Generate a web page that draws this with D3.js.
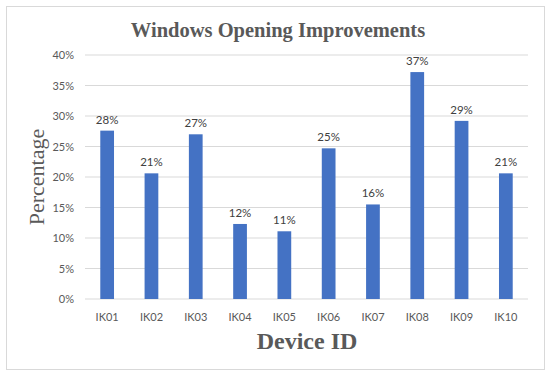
<!DOCTYPE html>
<html>
<head>
<meta charset="utf-8">
<script src="https://cdn.jsdelivr.net/npm/d3@7"></script>
<style>
  body { margin: 0; background: #fff; }
  .tick text { font-family: Lato, "Open Sans", sans-serif; font-size: 11px; fill: #595959; }
  .data-label { font-family: Lato, "Open Sans", sans-serif; font-size: 11.5px; fill: #404040; }
</style>
</head>
<body>
<div class="chart-container"></div>
<script>
const devices = ["IK01", "IK02", "IK03", "IK04", "IK05", "IK06", "IK07", "IK08", "IK09", "IK10"];
const improvement = [27.6, 20.6, 27.0, 12.3, 11.1, 24.7, 15.5, 37.2, 29.2, 20.6];
const yTicks = [0, 5, 10, 15, 20, 25, 30, 35, 40];

const W = 550, H = 377;
const margin = {top: 55, right: 22, bottom: 78, left: 85};
const width = W - margin.left - margin.right;
const height = H - margin.top - margin.bottom;

const svg = d3.select(".chart-container").append("svg")
    .attr("width", W)
    .attr("height", H);

// outer frame
svg.append("rect")
    .attr("x", 6.5).attr("y", 6.5)
    .attr("width", 538).attr("height", 363)
    .attr("fill", "#fff")
    .attr("stroke", "#d9d9d9");

const g = svg.append("g")
    .attr("transform", "translate(" + margin.left + "," + margin.top + ")");

const x = d3.scaleBand().domain(devices).range([0, width]).paddingInner(0.69).paddingOuter(0.345);
const y = d3.scaleLinear().domain([0, 40]).range([height, 0]);

// grid
g.selectAll(".grid")
    .data(yTicks)
  .enter().append("line")
    .attr("x1", 0).attr("x2", width)
    .attr("y1", (d) => y(d)).attr("y2", (d) => y(d))
    .attr("stroke", "#d9d9d9").attr("stroke-width", 1);

const yAxis = g.append("g")
    .call(d3.axisLeft(y).tickValues(yTicks).tickFormat((d) => d + "%").tickSize(0).tickPadding(11));
yAxis.select(".domain").remove();

const xAxis = g.append("g")
    .attr("transform", "translate(0," + height + ")")
    .call(d3.axisBottom(x).tickSize(0).tickPadding(14));
xAxis.select(".domain").remove();

g.selectAll(".bar")
    .data(improvement)
  .enter().append("rect")
    .attr("class", "bar")
    .attr("x", (d, i) => x(devices[i]))
    .attr("width", x.bandwidth())
    .attr("y", (d) => y(d))
    .attr("height", (d) => height - y(d))
    .attr("fill", "#4472c4");

g.selectAll(".data-label")
    .data(improvement)
  .enter().append("text")
    .attr("class", "data-label")
    .attr("x", (d, i) => x(devices[i]) + x.bandwidth() / 2)
    .attr("y", (d) => y(d) - 7)
    .attr("text-anchor", "middle")
    .text((d) => Math.round(d) + "%");

// title
svg.append("text")
    .attr("x", 278).attr("y", 37)
    .attr("text-anchor", "middle")
    .style("font-family", "'Liberation Serif', 'DejaVu Serif', serif")
    .style("font-weight", "bold")
    .style("font-size", "20.5px")
    .style("fill", "#595959")
    .text("Windows Opening Improvements");

// axis titles
svg.append("text")
    .attr("transform", "translate(44,177) rotate(-90)")
    .attr("text-anchor", "middle")
    .style("font-family", "'Liberation Serif', 'DejaVu Serif', serif")
    .style("font-size", "22px")
    .style("fill", "#595959")
    .text("Percentage");

svg.append("text")
    .attr("x", 307).attr("y", 349)
    .attr("text-anchor", "middle")
    .style("font-family", "'Liberation Serif', 'DejaVu Serif', serif")
    .style("font-weight", "bold")
    .style("font-size", "24px")
    .style("fill", "#595959")
    .text("Device ID");
</script>
</body>
</html>
